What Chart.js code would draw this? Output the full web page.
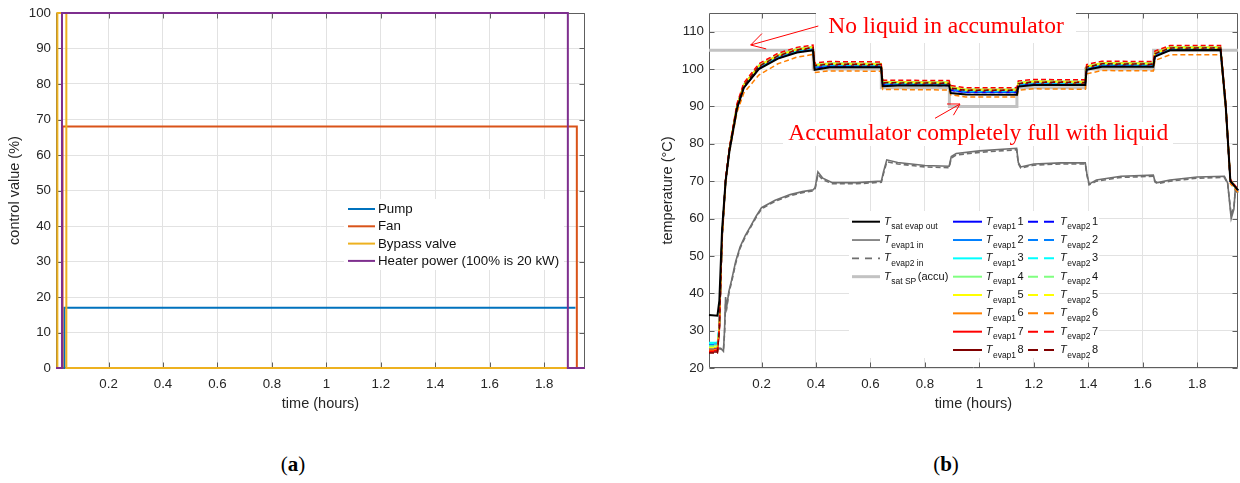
<!DOCTYPE html>
<html>
<head>
<meta charset="utf-8">
<script src="https://cdn.jsdelivr.net/npm/chart.js@4.4.1/dist/chart.umd.min.js"></script>
<style>
  html, body { margin: 0; padding: 0; background: #fff; }
  #wrap { position: relative; width: 1240px; height: 483px; overflow: hidden; background: #fff; }
  #cA { position: absolute; left: 0; top: 0; }
  #cB { position: absolute; left: 620px; top: 0; }
  .panel { position: absolute; top: 464px; transform: translate(-50%, -50%);
           font-family: "Liberation Serif", "Times New Roman", serif; font-size: 21px; color: #000; white-space: nowrap; }
</style>
</head>
<body>
<div id="wrap">
  <canvas id="cA" width="620" height="420"></canvas>
  <canvas id="cB" width="620" height="420"></canvas>
  <div class="panel" style="left:293px">(<b>a</b>)</div>
  <div class="panel" style="left:946px">(<b>b</b>)</div>
</div>
<script>
// ---------------- shared axes ----------------
const timeTicks = [0.2, 0.4, 0.6, 0.8, 1, 1.2, 1.4, 1.6, 1.8];
const controlTicks = [0, 10, 20, 30, 40, 50, 60, 70, 80, 90, 100];
const tempTicks = [20, 30, 40, 50, 60, 70, 80, 90, 100, 110];

// ---------------- panel (a): control signals, step change points ----------------
const controlNames = ['Pump', 'Fan', 'Bypass valve', 'Heater power (100% is 20 kW)'];
const pumpTime = [0.007, 0.038, 1.915];
const pumpValue = [0, 17, 17];
const fanTime = [0.007, 0.031, 1.920, 1.95];
const fanValue = [0, 68, 0, 0];
const bypassTime = [0.007, 0.012, 0.045, 1.887];
const bypassValue = [0, 100, 0, 0];
const heaterTime = [0.007, 0.029, 1.887, 1.95];
const heaterValue = [0, 100, 0, 0];

// ---------------- panel (b): temperatures ----------------
const evapTime = [0.007, 0.038, 0.045, 0.055, 0.068, 0.082, 0.11, 0.135, 0.19, 0.26, 0.33, 0.389,
  0.395, 0.45, 0.639, 0.645, 0.70, 0.889, 0.895, 0.95, 1.138, 1.143, 1.20, 1.389,
  1.394, 1.45, 1.639, 1.645, 1.70, 1.886, 1.905, 1.922, 1.95];

const satEvapOut = [34.2, 34.0, 38.0, 57.0, 70.0, 78.0, 89.5, 95.0, 100.0, 102.8, 104.4, 105.0, 99.8, 100.5, 100.5, 95.4, 95.6, 95.6, 93.6, 93.2, 93.1, 95.3, 95.7, 95.7, 99.8, 100.6, 100.6, 103.3, 105.0, 105.1, 90.0, 70.0, 67.6];

const evap1_1 = [25.2, 25.2, 31.0, 55.0, 70.0, 78.4, 89.6, 95.1, 100.2, 103.0, 104.6, 105.2, 100.4, 100.8, 100.7, 95.8, 95.8, 95.7, 94.4, 93.8, 93.8, 95.6, 96.0, 95.9, 100.0, 100.9, 100.8, 103.6, 105.1, 105.1, 89.8, 69.9, 67.5];
const evap1_2 = [26.4, 26.4, 31.2, 55.2, 70.0, 78.5, 89.8, 95.3, 100.4, 103.2, 104.8, 105.4, 100.6, 101.0, 100.9, 96.0, 96.0, 95.9, 94.6, 94.0, 94.0, 95.8, 96.2, 96.1, 100.2, 101.1, 101.0, 103.8, 105.3, 105.3, 90.0, 70.0, 67.5];
const evap1_3 = [26.8, 26.8, 31.5, 55.5, 70.2, 78.7, 90.1, 95.6, 100.7, 103.5, 105.1, 105.7, 100.9, 101.3, 101.2, 96.3, 96.3, 96.2, 94.9, 94.3, 94.3, 96.1, 96.5, 96.4, 100.5, 101.4, 101.3, 104.1, 105.6, 105.6, 90.3, 70.2, 67.6];
const evap1_4 = [26.0, 26.0, 31.3, 55.6, 70.3, 78.8, 90.4, 95.9, 101.0, 103.8, 105.4, 106.0, 101.2, 101.6, 101.5, 96.6, 96.6, 96.5, 95.2, 94.6, 94.6, 96.4, 96.8, 96.7, 100.8, 101.7, 101.6, 104.4, 105.9, 105.9, 90.6, 70.3, 67.7];
const evap1_5 = [25.6, 25.6, 31.0, 55.4, 70.2, 78.8, 90.3, 95.8, 100.9, 103.7, 105.3, 105.9, 101.1, 101.5, 101.4, 96.5, 96.5, 96.4, 95.1, 94.5, 94.5, 96.3, 96.7, 96.6, 100.7, 101.6, 101.5, 104.3, 105.8, 105.8, 90.5, 70.3, 67.6];
const evap1_6 = [25.0, 25.0, 30.8, 55.0, 70.0, 78.6, 89.9, 95.4, 100.5, 103.3, 104.9, 105.5, 100.7, 101.1, 101.0, 96.1, 96.1, 96.0, 94.7, 94.1, 94.1, 95.9, 96.3, 96.2, 100.3, 101.2, 101.1, 103.9, 105.4, 105.4, 90.1, 70.1, 67.5];
const evap1_7 = [24.6, 24.6, 30.6, 55.3, 70.2, 78.7, 90.2, 95.7, 100.8, 103.6, 105.2, 105.8, 101.0, 101.4, 101.3, 96.4, 96.4, 96.3, 95.0, 94.4, 94.4, 96.2, 96.6, 96.5, 100.6, 101.5, 101.4, 104.2, 105.7, 105.7, 90.4, 70.2, 67.6];
const evap1_8 = [24.3, 24.3, 30.4, 55.1, 70.1, 78.6, 90.0, 95.5, 100.6, 103.4, 105.0, 105.6, 100.8, 101.2, 101.1, 96.2, 96.2, 96.1, 94.8, 94.2, 94.2, 96.0, 96.4, 96.3, 100.4, 101.3, 101.2, 104.0, 105.5, 105.5, 90.2, 70.1, 67.6];

const evap2_1 = [25.0, 25.0, 30.9, 54.9, 69.9, 78.4, 89.5, 95.0, 100.1, 102.9, 104.5, 105.1, 100.3, 100.7, 100.6, 95.7, 95.7, 95.6, 94.3, 93.7, 93.7, 95.5, 95.9, 95.8, 99.9, 100.8, 100.7, 103.5, 105.0, 105.0, 89.7, 69.9, 67.4];
const evap2_2 = [26.2, 26.2, 31.1, 55.1, 70.0, 78.5, 89.7, 95.2, 100.3, 103.1, 104.7, 105.3, 100.5, 100.9, 100.8, 95.9, 95.9, 95.8, 94.5, 93.9, 93.9, 95.7, 96.1, 96.0, 100.1, 101.0, 100.9, 103.7, 105.2, 105.2, 89.9, 70.0, 67.5];
const evap2_3 = [26.6, 26.6, 31.4, 55.4, 70.1, 78.6, 90.0, 95.5, 100.6, 103.4, 105.0, 105.6, 100.8, 101.2, 101.1, 96.2, 96.2, 96.1, 94.8, 94.2, 94.2, 96.0, 96.4, 96.3, 100.4, 101.3, 101.2, 104.0, 105.5, 105.5, 90.2, 70.1, 67.6];
const evap2_4 = [25.8, 25.8, 31.2, 55.5, 70.2, 78.8, 90.3, 95.8, 100.9, 103.7, 105.3, 105.9, 101.1, 101.5, 101.4, 96.5, 96.5, 96.4, 95.1, 94.5, 94.5, 96.3, 96.7, 96.6, 100.7, 101.6, 101.5, 104.3, 105.8, 105.8, 90.5, 70.3, 67.6];
const evap2_5 = [25.4, 25.4, 30.9, 55.3, 70.1, 78.7, 90.2, 95.7, 100.8, 103.6, 105.2, 105.8, 101.0, 101.4, 101.3, 96.4, 96.4, 96.3, 95.0, 94.4, 94.4, 96.2, 96.6, 96.5, 100.6, 101.5, 101.4, 104.2, 105.7, 105.7, 90.4, 70.2, 67.2];
const evap2_6 = [24.8, 24.8, 30.5, 54.0, 69.0, 77.7, 88.5, 93.6, 98.4, 101.4, 103.2, 103.9, 99.1, 99.5, 99.4, 94.5, 94.5, 94.4, 93.1, 92.5, 92.5, 94.3, 94.7, 94.6, 98.7, 99.6, 99.5, 102.3, 103.8, 103.8, 88.5, 69.3, 67.0];
const evap2_7 = [24.4, 24.4, 31.0, 56.0, 71.0, 79.0, 90.8, 96.3, 101.4, 104.2, 105.8, 106.4, 101.6, 102.0, 101.9, 97.0, 97.0, 96.9, 95.6, 95.0, 95.0, 96.8, 97.2, 97.1, 101.2, 102.1, 102.0, 104.8, 106.3, 106.3, 91.0, 70.5, 67.8];
const evap2_8 = [24.0, 24.0, 30.3, 55.2, 70.1, 78.7, 90.1, 95.6, 100.7, 103.5, 105.1, 105.7, 100.9, 101.3, 101.2, 96.3, 96.3, 96.2, 94.9, 94.3, 94.3, 96.1, 96.5, 96.4, 100.5, 101.4, 101.3, 104.1, 105.6, 105.6, 90.3, 70.2, 67.6];

// evaporator inlet temperatures
const inletTime = [0.007, 0.05, 0.06, 0.064, 0.068, 0.072, 0.08, 0.09, 0.105, 0.121, 0.14, 0.158, 0.18, 0.2, 0.25, 0.305, 0.35, 0.39,
  0.397, 0.407, 0.425, 0.46, 0.55, 0.64, 0.648, 0.66, 0.7, 0.8, 0.889, 0.897, 0.915, 1.0, 1.137, 1.143, 1.152, 1.2, 1.3, 1.389,
  1.395, 1.403, 1.43, 1.52, 1.639, 1.645, 1.655, 1.7, 1.8, 1.9, 1.912, 1.925, 1.935, 1.94, 1.95];
const evap1In = [25.5, 25.3, 24.5, 30.0, 39.0, 36.4, 40.5, 43.5, 48.5, 52.4, 55.4, 57.7, 60.6, 62.9, 64.9, 66.4, 67.2, 67.7,
  68.3, 72.5, 70.8, 69.6, 69.6, 70.0, 72.5, 75.7, 75.0, 74.2, 74.0, 76.6, 77.4, 78.1, 78.8, 75.0, 73.8, 74.6, 74.9, 74.9,
  72.0, 69.2, 70.3, 71.3, 71.6, 70.0, 69.6, 70.3, 71.1, 71.3, 69.5, 60.0, 62.5, 67.8, 67.0];
const evap2In = [25.3, 25.1, 24.8, 29.0, 37.5, 36.0, 40.0, 43.0, 48.0, 52.0, 55.0, 57.4, 60.3, 62.6, 64.6, 66.1, 66.9, 67.4,
  68.0, 71.8, 70.4, 69.3, 69.3, 69.7, 72.0, 75.2, 74.6, 73.8, 73.6, 76.2, 77.0, 77.7, 78.4, 74.7, 73.5, 74.3, 74.6, 74.6,
  71.7, 69.0, 70.0, 71.0, 71.3, 69.8, 69.3, 70.0, 70.8, 71.0, 69.3, 61.0, 63.0, 67.5, 66.8];

// accumulator saturation set point (step change points)
const setPointTime = [0.007, 0.39, 0.64, 0.89, 1.138, 1.39, 1.64, 1.95];
const setPointValue = [105, 100, 95, 90, 95, 100, 105, 105];

const sensorNumbers = ['1', '2', '3', '4', '5', '6', '7', '8'];
const noteTop = 'No liquid in accumulator';
const noteBottom = 'Accumulator completely full with liquid';

// ---------------- styling ----------------
const X_MIN = 0.007, X_MAX = 1.95;
const SANS = '"Liberation Sans", Arial, sans-serif';
const INK = '#262626';
const GRID = '#e2e2e2';
const FRAME = '#5e5e5e';
const jet8 = ['#0000ff', '#0080ff', '#00ffff', '#80ff80', '#ffff00', '#ff8000', '#ff0000', '#800000'];
const matlabColors = ['#0072BD', '#D95319', '#EDB120', '#7E2F8E'];

function pts(t, v) { return t.map((x, i) => ({ x, y: v[i] })); }

function scalesFor(yTicks, yMin, yMax, yTitle, yWidth, yTitlePad) {
  return {
    x: {
      type: 'linear', min: X_MIN, max: X_MAX,
      afterBuildTicks: s => { s.ticks = timeTicks.map(v => ({ value: v })); },
      afterFit: s => { s.height = 52; },
      grid: { color: GRID, lineWidth: 1, drawTicks: false },
      border: { display: false },
      ticks: { font: { family: SANS, size: 13.3 }, color: INK, padding: 8, maxRotation: 0, autoSkip: false,
               callback: v => String(v) },
      title: { display: true, text: 'time (hours)', font: { family: SANS, size: 14.5 }, color: INK,
               padding: { top: 0, bottom: 7.3 } }
    },
    y: {
      type: 'linear', min: yMin, max: yMax,
      afterBuildTicks: s => { s.ticks = yTicks.map(v => ({ value: v })); },
      afterFit: s => { s.width = yWidth; },
      grid: { color: GRID, lineWidth: 1, drawTicks: false },
      border: { display: false },
      ticks: { font: { family: SANS, size: 13.3 }, color: INK, padding: 5, autoSkip: false },
      title: { display: true, text: yTitle, font: { family: SANS, size: 14.5 }, color: INK,
               padding: { top: yTitlePad, bottom: 0 } }
    }
  };
}

// box round the plot with inward tick marks on all four sides
function framePlugin(yTicks, afterFrame) {
  return {
    id: 'frame',
    beforeDatasetsDraw(chart) {
      const { ctx, chartArea: a, scales: { x, y } } = chart;
      const L = Math.round(a.left) + 0.5, R = Math.round(a.right) - 0.5;
      const T = Math.round(a.top) + 0.5, B = Math.round(a.bottom) - 0.5;
      ctx.save();
      ctx.strokeStyle = FRAME; ctx.lineWidth = 1;
      ctx.beginPath();
      ctx.rect(L, T, R - L, B - T);
      timeTicks.forEach(v => {
        const px = Math.round(x.getPixelForValue(v)) + 0.5;
        ctx.moveTo(px, B); ctx.lineTo(px, B - 5);
        ctx.moveTo(px, T); ctx.lineTo(px, T + 5);
      });
      yTicks.forEach(v => {
        const py = Math.round(y.getPixelForValue(v)) + 0.5;
        ctx.moveTo(L, py); ctx.lineTo(L + 5, py);
        ctx.moveTo(R, py); ctx.lineTo(R - 5, py);
      });
      ctx.stroke();
      ctx.restore();
      if (afterFrame) afterFrame(chart);
    }
  };
}

// ---------------- chart (a) ----------------
const controlSeries = [[pumpTime, pumpValue], [fanTime, fanValue], [bypassTime, bypassValue], [heaterTime, heaterValue]];

const legendA = {
  id: 'legendA',
  afterDatasetsDraw(chart) {
    const ctx = chart.ctx;
    ctx.save();
    ctx.font = '13.3px ' + SANS;
    ctx.textBaseline = 'middle';
    controlNames.forEach((name, i) => {
      const yy = 209 + i * 17.3;
      ctx.strokeStyle = matlabColors[i]; ctx.lineWidth = 2;
      ctx.beginPath(); ctx.moveTo(348, yy); ctx.lineTo(375, yy); ctx.stroke();
      ctx.fillStyle = '#111';
      ctx.fillText(name, 378, yy + 0.5);
    });
    ctx.restore();
  }
};

new Chart(document.getElementById('cA'), {
  type: 'line',
  data: {
    datasets: controlSeries.map(([t, v], i) => ({
      label: controlNames[i], data: pts(t, v), stepped: true,
      borderColor: matlabColors[i], borderWidth: 2, pointRadius: 0, fill: false, clip: 4, order: 4 - i
    }))
  },
  options: {
    responsive: false, animation: false, events: [],
    layout: { padding: { left: 0, top: 13, right: 35, bottom: 0 } },
    plugins: { legend: { display: false }, tooltip: { enabled: false } },
    scales: scalesFor(controlTicks, 0, 100, 'control value (%)', 56, 6.3)
  },
  plugins: [framePlugin(controlTicks, chart => {
    const ctx = chart.ctx;
    ctx.save(); ctx.fillStyle = '#fff'; ctx.fillRect(344, 199, 220, 71); ctx.restore();
  }), legendA]
});

// ---------------- chart (b) ----------------
const evap1Series = [evap1_1, evap1_2, evap1_3, evap1_4, evap1_5, evap1_6, evap1_7, evap1_8];
const evap2Series = [evap2_1, evap2_2, evap2_3, evap2_4, evap2_5, evap2_6, evap2_7, evap2_8];

const datasetsB = [];
datasetsB.push({ label: 'T sat SP (accu)', data: pts(setPointTime, setPointValue), stepped: true,
  borderColor: '#c2c2c2', borderWidth: 3, order: 100 });
datasetsB.push({ label: 'T evap1 in', data: pts(inletTime, evap1In), borderColor: '#6f6f6f', borderWidth: 1.6, order: 90 });
datasetsB.push({ label: 'T evap2 in', data: pts(inletTime, evap2In), borderColor: '#6f6f6f', borderWidth: 1.6,
  borderDash: [5, 3], order: 89 });
evap1Series.forEach((v, i) => datasetsB.push({ label: 'T evap1 ' + sensorNumbers[i], data: pts(evapTime, v),
  borderColor: jet8[i], borderWidth: 1.5, order: 60 - i }));
evap2Series.forEach((v, i) => datasetsB.push({ label: 'T evap2 ' + sensorNumbers[i], data: pts(evapTime, v),
  borderColor: jet8[i], borderWidth: 1.5, borderDash: [5, 3], order: 40 - i }));
datasetsB.push({ label: 'T sat evap out', data: pts(evapTime, satEvapOut), borderColor: '#000', borderWidth: 2, order: 1 });
datasetsB.forEach(d => { d.pointRadius = 0; d.fill = false; d.clip = 4; d.tension = 0; });

const OX = 620; // page offset of this canvas

function noteFont(ctx) {
  ctx.font = '20px "Liberation Serif"';
  const w = ctx.measureText(noteBottom).width;
  return (20 * 380 / w).toFixed(2) + 'px "Liberation Serif"';
}

function arrow(ctx, x0, y0, x1, y1, len, spread) {
  const ang = Math.atan2(y0 - y1, x0 - x1);
  ctx.beginPath();
  ctx.moveTo(x0, y0); ctx.lineTo(x1, y1);
  ctx.moveTo(x1 + len * Math.cos(ang - spread), y1 + len * Math.sin(ang - spread));
  ctx.lineTo(x1, y1);
  ctx.lineTo(x1 + len * Math.cos(ang + spread), y1 + len * Math.sin(ang + spread));
  ctx.stroke();
}

function drawSymbol(ctx, x, yLine, sub, tail) {
  ctx.fillStyle = '#111';
  ctx.textBaseline = 'alphabetic';
  ctx.font = 'italic 11px ' + SANS;
  ctx.fillText('T', x, yLine + 3);
  const wT = ctx.measureText('T').width;
  ctx.font = '8.5px ' + SANS;
  ctx.fillText(sub, x + wT + 0.5, yLine + 7.5);
  const wS = ctx.measureText(sub).width;
  if (tail) {
    ctx.font = '11px ' + SANS;
    ctx.fillText(tail, x + wT + wS + 2, yLine + 3);
  }
}

const overlaysB = {
  id: 'overlaysB',
  afterDatasetsDraw(chart) {
    const ctx = chart.ctx;
    ctx.save();
    // annotations
    ctx.fillStyle = '#ff0000'; ctx.strokeStyle = '#ff0000'; ctx.lineWidth = 1;
    ctx.font = noteFont(ctx);
    ctx.textBaseline = 'alphabetic';
    ctx.fillText(noteTop, 828.3 - OX, 33.3);
    ctx.fillText(noteBottom, 788.3 - OX, 140);
    arrow(ctx, 818.3 - OX, 26, 750.7 - OX, 45, 16, 0.52);
    arrow(ctx, 935 - OX, 118.3, 960 - OX, 104, 13, 0.52);

    // legend
    const col1 = [['sat evap out', ''], ['evap1 in', ''], ['evap2 in', ''], ['sat SP', '(accu)']];
    const col1Style = [['#000', 2, []], ['#6f6f6f', 1.6, []], ['#6f6f6f', 1.6, [7, 6]], ['#c2c2c2', 3, []]];
    col1.forEach(([sub, tail], i) => {
      const yy = 221.7 + i * 18.33;
      ctx.strokeStyle = col1Style[i][0]; ctx.lineWidth = col1Style[i][1]; ctx.setLineDash(col1Style[i][2]);
      ctx.beginPath(); ctx.moveTo(852 - OX, yy); ctx.lineTo(880 - OX, yy); ctx.stroke();
      ctx.setLineDash([]);
      drawSymbol(ctx, 884 - OX, yy, sub, tail);
    });
    sensorNumbers.forEach((n, i) => {
      const yy = 221.7 + i * 18.33;
      ctx.strokeStyle = jet8[i]; ctx.lineWidth = 2;
      ctx.setLineDash([]);
      ctx.beginPath(); ctx.moveTo(953 - OX, yy); ctx.lineTo(982 - OX, yy); ctx.stroke();
      drawSymbol(ctx, 985.7 - OX, yy, 'evap1', n);
      ctx.strokeStyle = jet8[i]; ctx.lineWidth = 2;
      ctx.setLineDash([10, 6]);
      ctx.beginPath(); ctx.moveTo(1028 - OX, yy); ctx.lineTo(1056 - OX, yy); ctx.stroke();
      ctx.setLineDash([]);
      drawSymbol(ctx, 1060 - OX, yy, 'evap2', n);
    });
    ctx.restore();
  }
};

new Chart(document.getElementById('cB'), {
  type: 'line',
  data: { datasets: datasetsB },
  options: {
    responsive: false, animation: false, events: [],
    layout: { padding: { left: 0, top: 11, right: 2, bottom: 0 } },
    plugins: { legend: { display: false }, tooltip: { enabled: false } },
    scales: scalesFor(tempTicks, 20, 115, 'temperature (°C)', 89, 39.3)
  },
  plugins: [framePlugin(tempTicks, chart => {
    const ctx = chart.ctx;
    ctx.save(); ctx.fillStyle = '#fff';
    ctx.fillRect(816 - OX, 0, 260, 43);     // behind the upper note
    ctx.fillRect(783 - OX, 122, 390, 24);   // behind the lower note
    ctx.fillRect(849 - OX, 211, 250, 147);  // legend background
    ctx.restore();
  }), overlaysB]
});
</script>
</body>
</html>
